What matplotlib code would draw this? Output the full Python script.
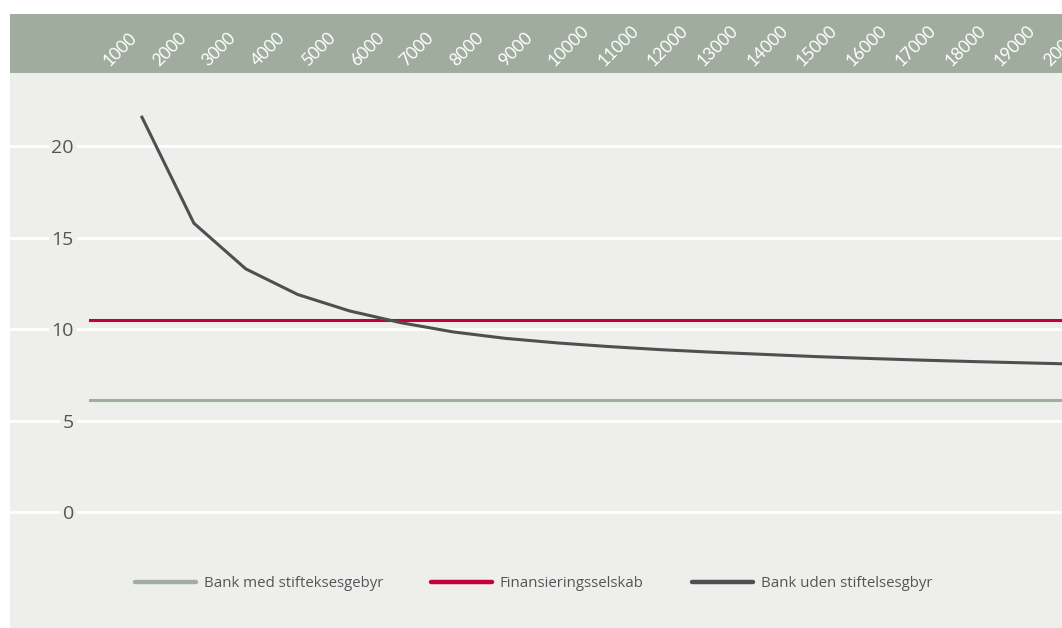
import numpy as np
import matplotlib
matplotlib.use("Agg")
import matplotlib.pyplot as plt

# loan amounts (x axis) and effective interest (%)
amounts = [1000, 2000, 3000, 4000, 5000, 6000, 7000, 8000, 9000, 10000,
           11000, 12000, 13000, 14000, 15000, 16000, 17000, 18000, 19000, 20000]
flat_x = [0, 20000]
bank_med = [6.15, 6.15]          # Bank med stifteksesgebyr
finans = [10.5, 10.5]            # Finansieringsselskab
bank_uden = [21.6, 15.8, 13.3, 11.9, 11.0, 10.35, 9.85, 9.5, 9.25, 9.05,
             8.88, 8.74, 8.62, 8.5, 8.4, 8.31, 8.23, 8.16, 8.09, 8.03]
y_ticks = [0, 5, 10, 15, 20]

GREEN = "#9fae9f"
HEADER = "#9fac9e"
RED = "#c4003c"
DARK = "#4f4f4f"
PANEL = "#eeefec"
TXT = "#555555"

W, H = 1062, 628
fig = plt.figure(figsize=(W / 100, H / 100), dpi=100, facecolor="white")

# main panel below the header band
ax = fig.add_axes([10 / W, 0, 1052 / W, (H - 73) / H])
ax.set_facecolor(PANEL)
for s in ax.spines.values():
    s.set_visible(False)

l1, = ax.plot(flat_x, bank_med, color=GREEN, lw=2.2, label="Bank med stifteksesgebyr")
l2, = ax.plot(flat_x, finans, color=RED, lw=2.2, label="Finansieringsselskab")
l3, = ax.plot(amounts, bank_uden, color=DARK, lw=2.2, label="Bank uden stiftelsesgbyr")

ax.set_xlim(-1543, 18727)
ax.set_ylim(-6.35, 24.02)
ax.set_xticks([])
ax.set_yticks(y_ticks)
ax.set_yticklabels([str(v) for v in y_ticks])
ax.set_axisbelow(True)
ax.grid(axis="y", color="white", lw=2)
ax.tick_params(axis="y", length=0, pad=-46, labelsize=14, labelcolor=TXT)
for lbl in ax.get_yticklabels():
    lbl.set_fontfamily("Open Sans")
    lbl.set_bbox(dict(facecolor=PANEL, edgecolor="none", pad=2))

leg = ax.legend(handles=[l1, l2, l3], ncol=3, frameon=False,
                loc="center left", bbox_to_anchor=(111 / 1052, 0.080),
                prop={"family": "Open Sans", "size": 10.8},
                handlelength=4.1, handletextpad=0.5, columnspacing=3.2)
for t in leg.get_texts():
    t.set_color(TXT)
for h in leg.get_lines():
    h.set_linewidth(3.2)
    h.set_solid_capstyle("round")

# header band with rotated amount labels
hx = fig.add_axes([10 / W, (H - 73) / H, 1052 / W, 59 / H])
hx.set_facecolor(HEADER)
hx.set_xlim(-1.939, 19.31)
hx.set_ylim(0, 1)
hx.axis("off")
hx.add_patch(plt.Rectangle((0, 0), 1, 1, transform=hx.transAxes,
                           facecolor=HEADER, edgecolor="none"))
for i, a in enumerate(amounts):
    hx.text(i, 0.17, str(a), rotation=45, rotation_mode="anchor",
            ha="left", va="center", color="white", fontsize=12.5,
            family="Lato", clip_on=False)

fig.savefig("out.png", dpi=100, facecolor="white")
